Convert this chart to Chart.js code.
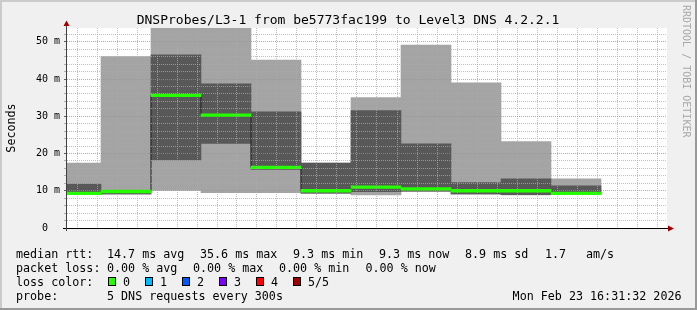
<!DOCTYPE html>
<html><head><meta charset="utf-8">
<script src="https://cdn.jsdelivr.net/npm/chart.js@4"></script>
<style>html,body{margin:0;padding:0;background:#f0f0f0}#wrap{width:697px;height:310px;position:relative}</style>
</head><body><div id="wrap"><canvas id="c" width="697" height="310"></canvas></div>
<script>
// probe intervals: minutes after 15:00 at the start of each 5-minute round
const intervalStart = [30, 35, 40, 45, 50, 55, 60, 65, 70, 75, 80];
// the 5 sorted ping times per round (ms)
const ping1  = [9.1, 9.1, 10.1, 9.5, 9.5, 9.3, 8.9, 9.85, 9.1, 8.9, 9.1];
const ping2  = [9.15, 9.15, 18.3, 22.7, 15.7, 9.35, 9.75, 9.9, 9.15, 8.95, 9.2];
const median = [9.3, 9.8, 35.6, 30.3, 16.3, 10.0, 10.95, 10.5, 10.0, 10.0, 9.3];
const ping4  = [11.8, 10.0, 46.5, 38.7, 31.2, 17.4, 31.5, 22.6, 12.2, 13.2, 11.3];
const ping5  = [17.45, 46.0, 58.0, 56.0, 45.1, 17.45, 35.0, 49.1, 39.0, 23.2, 13.2];
const stepMinutes = 5;
const medianHalfWidth = 0.35;
// axis ranges (minutes after 15:00 / ms)
const xRange = [31.6, 91.6];
const yRange = [0, 53.7];

const titleText = 'DNSProbes/L3-1 from be5773fac199 to Level3 DNS 4.2.2.1';
const yTitle = 'Seconds';
const watermark = 'RRDTOOL / TOBI OETIKER';
const legendRow1 = ['median rtt:', '14.7 ms avg', '35.6 ms max', '9.3 ms min', '9.3 ms now', '8.9 ms sd', '1.7', 'am/s'];
const legendRow2 = ['packet loss:', '0.00 % avg', '0.00 % max', '0.00 % min', '0.00 % now'];
const lossLabels = ['0', '1', '2', '3', '4', '5/5'];
const lossColors = ['#26ff00', '#00b8ff', '#0059ff', '#7e00ff', '#ff0000', '#a10000'];
const probeRow = ['probe:', '5 DNS requests every 300s'];
const dateText = 'Mon Feb 23 16:31:32 2026';

const centers = intervalStart.map(s => s + stepMinutes / 2);
const pts = (lo, hi) => centers.map((x, i) => ({x, y: [lo[i], hi[i]]}));
const mono = '"DejaVu Sans Mono", monospace';

const fmtTime = v => { const h = 15 + Math.floor(v / 60), m = v % 60; return h + ':' + String(m).padStart(2, '0'); };
const MAJ = 'rgba(230,114,114,0.75)', MIN = 'rgba(171,171,171,0.75)';
const isMajor = c => c.tick && Math.abs(c.tick.value % 10) < 1e-6;

const frame = {
  id: 'frame',
  beforeDraw(chart) {
    const c = chart.ctx, a = chart.chartArea, W = chart.width, H = chart.height;
    c.save();
    c.fillStyle = '#f0f0f0'; c.fillRect(0, 0, W, H);
    c.fillStyle = '#cbcbcb'; c.fillRect(0, 0, W, 2); c.fillRect(0, 0, 2, H);
    c.fillStyle = '#999999'; c.fillRect(0, H - 2, W, 2); c.fillRect(W - 2, 0, 2, H);
    c.fillStyle = '#ffffff'; c.fillRect(a.left, a.top, a.right - a.left, a.bottom - a.top);
    c.restore();
  },
  afterDraw(chart) {
    const c = chart.ctx, a = chart.chartArea;
    c.save();
    // axes
    c.strokeStyle = '#000'; c.lineWidth = 1;
    c.beginPath(); c.moveTo(63, a.bottom + 0.5); c.lineTo(a.right + 2, a.bottom + 0.5); c.stroke();
    c.strokeStyle = '#404040';
    c.beginPath(); c.moveTo(a.left - 0.5, a.bottom + 3); c.lineTo(a.left - 0.5, a.top - 3); c.stroke();
    c.fillStyle = '#a00000';
    c.beginPath(); c.moveTo(a.right + 1, a.bottom - 2.5); c.lineTo(a.right + 1, a.bottom + 3.5); c.lineTo(a.right + 7, a.bottom + 0.5); c.closePath(); c.fill();
    c.beginPath(); c.moveTo(a.left - 3.5, a.top - 2); c.lineTo(a.left + 2.5, a.top - 2); c.lineTo(a.left - 0.5, a.top - 7.5); c.closePath(); c.fill();
    // title
    c.fillStyle = '#000';
    c.font = '13px ' + mono; c.textAlign = 'center'; c.textBaseline = 'alphabetic';
    c.fillText(titleText, 348, 24);
    // y title
    c.save(); c.translate(15, 128); c.rotate(-Math.PI / 2);
    c.font = '11.7px ' + mono; c.textAlign = 'center'; c.fillText(yTitle, 0, 0); c.restore();
    // watermark
    c.save(); c.translate(683, 5); c.rotate(Math.PI / 2);
    c.font = '10px ' + mono; c.fillStyle = '#a8a8a8'; c.textAlign = 'left'; c.textBaseline = 'alphabetic';
    c.fillText(watermark, 0, 0); c.restore();
    // legend
    c.font = '11.7px ' + mono; c.textAlign = 'left'; c.fillStyle = '#000';
    const r1x = [16, 107, 200, 293, 379, 465, 545, 586];
    legendRow1.forEach((t, i) => c.fillText(t, r1x[i], 258));
    const r2x = [16, 107, 193, 279, 365.5];
    legendRow2.forEach((t, i) => c.fillText(t, r2x[i], 272));
    c.fillText('loss color:', 16, 286);
    lossLabels.forEach((t, i) => {
      const bx = 108 + i * 37;
      c.fillStyle = lossColors[i]; c.fillRect(bx, 277, 8, 9);
      c.strokeStyle = '#000'; c.strokeRect(bx + 0.5, 277.5, 7, 8);
      c.fillStyle = '#000'; c.fillText(t, bx + 15, 286);
    });
    c.fillText(probeRow[0], 16, 300);
    c.fillText(probeRow[1], 107, 300);
    c.textAlign = 'right'; c.fillText(dateText, 681.5, 300);
    c.restore();
  }
};

const barOpts = { stack: 'smoke', barPercentage: 1, categoryPercentage: 1, barThickness: 'flex', borderWidth: 0 };

new Chart(document.getElementById('c'), {
  type: 'bar',
  data: {
    datasets: [
      Object.assign({ type: 'bar', label: 'median', data: pts(median.map(v => v - medianHalfWidth), median.map(v => v + medianHalfWidth)),
        backgroundColor: lossColors[0], order: 0 }, barOpts),
      { type: 'line', label: 'median line', data: centers.map((x, i) => ({x, y: median[i]})), stepped: 'middle',
        borderColor: '#202020', borderWidth: 1, pointRadius: 0, fill: false, order: 1 },
      Object.assign({ type: 'bar', label: 'ping2-4', data: pts(ping2, ping4), backgroundColor: '#585858', order: 2 }, barOpts),
      Object.assign({ type: 'bar', label: 'ping1-5', data: pts(ping1, ping5), backgroundColor: '#a4a4a4', order: 3 }, barOpts)
    ]
  },
  options: {
    responsive: false, animation: false, devicePixelRatio: 1,
    layout: { padding: { top: 28, right: 30, left: 0, bottom: 0 } },
    plugins: { legend: { display: false }, tooltip: { enabled: false }, title: { display: false } },
    scales: {
      x: {
        type: 'linear', min: xRange[0], max: xRange[1], offset: false,
        afterFit: s => { s.height = 82; },
        border: { display: false, dash: [1, 1] },
        grid: { z: 1, drawTicks: false, color: c => isMajor(c) ? MAJ : MIN },
        ticks: { stepSize: 2, includeBounds: false, autoSkip: false, maxRotation: 0, padding: 4,
          color: '#000', font: { family: mono, size: 10 },
          callback: v => v % 10 === 0 ? fmtTime(v) : '' }
      },
      y: {
        min: yRange[0], max: yRange[1], stacked: false,
        afterFit: s => { s.width = 67; },
        border: { display: false, dash: [1, 1] },
        grid: { z: 1, tickLength: 3, color: c => isMajor(c) ? MAJ : MIN,
          tickColor: c => isMajor(c) ? '#606060' : '#b0b0b0' },
        ticks: { stepSize: 2, includeBounds: false, autoSkip: false, padding: 4,
          color: '#000', font: { family: mono, size: 10 },
          callback: v => v % 10 === 0 ? (v === 0 ? '0  ' : v + ' m') : '' }
      }
    }
  },
  plugins: [frame]
});
</script></body></html>
